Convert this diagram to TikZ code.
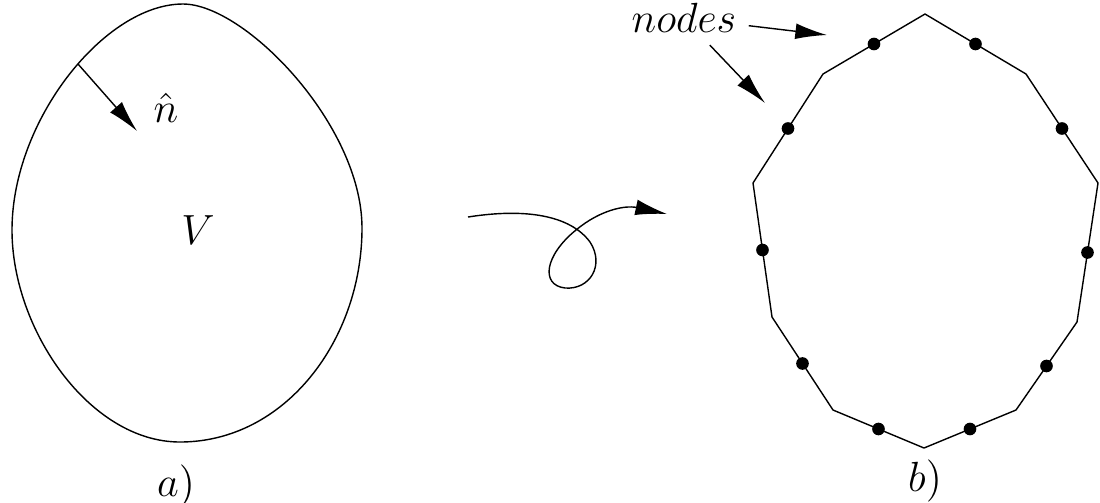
\documentclass[tikz,border=0pt]{standalone}
\usepackage{tikz}
\usetikzlibrary{arrows.meta,calc}

\begin{document}
\begin{tikzpicture}[x=0.01cm, y=-0.01cm, every node/.style={font=\large},
    outline/.style={thin, line join=round},
    pointer/.style={thin, -{Latex[length=9pt, width=4.5pt]}},
    meshdot/.style={fill=black}]
    \useasboundingbox (0,0) rectangle (1100,502);

    \draw[outline] (183,4) .. controls (245,4) and (362,125) .. (362,228)
        .. controls (362,340) and (285,442) .. (180,442)
        .. controls (90,442) and (12,330) .. (12,230)
        .. controls (12,120) and (105,4) .. (183,4) -- cycle;

    \coordinate (nbase) at (78,64);
    \coordinate (ntip) at (137,131);
    \draw[pointer] (nbase) -- (ntip);
    \node (nlbl) at (166,108) {$\hat{n}$};
    \node (vol) at (198,230) {$V$};
    \node (capA) at (176,486) {$a)$};

    \coordinate (wstart) at (468,217);
    \coordinate (wend) at (667,214);
    \draw[pointer] (wstart) .. controls (525,208) and (570,215) .. (590,242)
        .. controls (605,265) and (590,290) .. (565,288)
        .. controls (540,285) and (545,255) .. (576,230)
        .. controls (600,210) and (625,205) .. (wend);

    \coordinate (p1) at (925,14);
    \coordinate (p2) at (1026,74);
    \coordinate (p3) at (1098,183);
    \coordinate (p4) at (1077,322);
    \coordinate (p5) at (1016,410);
    \coordinate (p6) at (924,448);
    \coordinate (p7) at (833,410);
    \coordinate (p8) at (772,317);
    \coordinate (p9) at (753,183);
    \coordinate (p10) at (823,74);
    \draw[outline] (p1) -- (p2) -- (p3) -- (p4) -- (p5) -- (p6) -- (p7) -- (p8) -- (p9) -- (p10) -- cycle;
    \foreach \i/\j in {1/2,2/3,3/4,4/5,5/6,6/7,7/8,8/9,9/10,10/1}
        \fill[meshdot] ($(p\i)!0.5!(p\j)$) circle (1.8pt);

    \node (lbl) at (684,18) {$nodes$};
    \coordinate (tipA) at (827,35);
    \coordinate (tipB) at (765,103);
    \draw[pointer] (lbl) -- (tipA);
    \draw[pointer] (lbl) -- (tipB);
    \node (capB) at (925,481) {$b)$};
\end{tikzpicture}
\end{document}
